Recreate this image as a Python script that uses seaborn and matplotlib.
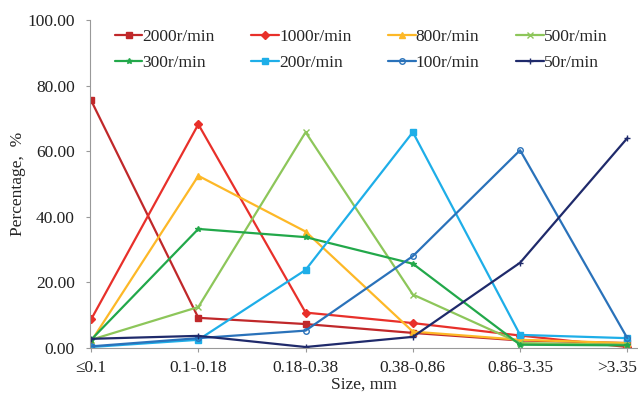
import matplotlib
matplotlib.use('Agg')
import matplotlib.pyplot as plt
import matplotlib.transforms as mtrans
import seaborn as sns
import pandas as pd

sizes = ['≤0.1', '0.1-0.18', '0.18-0.38', '0.38-0.86', '0.86-3.35', '>3.35']
speeds = ['2000r/min', '1000r/min', '800r/min', '500r/min',
          '300r/min', '200r/min', '100r/min', '50r/min']

pct_2000 = [75.5, 9.2, 7.3, 4.6, 2.3, 1.5]
pct_1000 = [8.7, 68.2, 10.8, 7.6, 3.8, 0.3]
pct_800 = [2.0, 52.5, 35.5, 5.0, 2.5, 1.5]
pct_500 = [2.5, 12.5, 65.8, 16.3, 1.5, 1.0]
pct_300 = [2.5, 36.3, 33.8, 25.7, 1.0, 0.8]
pct_200 = [0.3, 2.5, 23.8, 65.8, 4.0, 3.0]
pct_100 = [0.5, 3.0, 5.3, 28.0, 60.3, 3.0]
pct_50 = [2.8, 3.7, 0.3, 3.4, 26.0, 64.0]

series = [pct_2000, pct_1000, pct_800, pct_500, pct_300, pct_200, pct_100, pct_50]
colors = ['#C0282A', '#E8302A', '#FDB827', '#8DC65A',
          '#22A84A', '#1EAEE8', '#2A72BA', '#1F2A6B']
markers = ['s', 'D', '^', 'x', '*', 's', 'o', '+']

rows = []
for spd, vals in zip(speeds, series):
  for i, v in enumerate(vals):
    rows.append({'pos': i, 'speed': spd, 'pct': v})
df = pd.DataFrame(rows)

sns.set_theme(style='white')
plt.rcParams['font.family'] = ['Liberation Serif', 'DejaVu Serif']

fig = plt.figure(figsize=(6.38, 3.94), dpi=100)
ax = fig.add_axes([90/638, 1-348/394, 547/638, 328/394])

for spd, col, mk in zip(speeds, colors, markers):
  sub = df[df['speed'] == spd]
  face = 'none' if mk == 'o' else col
  sns.lineplot(data=sub, x='pos', y='pct', ax=ax, color=col, marker=mk,
               linewidth=1.6, label=spd, markersize=4, markeredgewidth=1.0,
               markeredgecolor=col, markerfacecolor=face)

fs = 12.5
ax.set_xlim(-0.01, 5.09)
ax.set_ylim(0, 100)
ax.set_xticks(range(len(sizes)))
ax.set_xticklabels(sizes)
ax.set_yticks([0, 20, 40, 60, 80, 100])
ax.set_yticklabels([f'{v:.2f}' for v in [0, 20, 40, 60, 80, 100]])
ax.tick_params(axis='both', labelsize=fs, colors='#999999', labelcolor='#222222',
               length=3, direction='out', bottom=True, left=True, width=0.8)
ax.tick_params(axis='y', pad=8)
ax.tick_params(axis='x', pad=6)
# last label sits a bit left, like the original
lab = ax.get_xticklabels()[-1]
lab.set_transform(mtrans.offset_copy(lab.get_transform(), fig, x=-10, units='dots'))
for s in ['top', 'right']:
  ax.spines[s].set_visible(False)
for s in ['left', 'bottom']:
  ax.spines[s].set_color('#999999')
  ax.spines[s].set_linewidth(0.8)
ax.set_xlabel('Size, mm', fontsize=fs, labelpad=0)
ax.set_ylabel('Percentage,  %', fontsize=fs, labelpad=1)

# legend fills by column, so reorder to get rows 2000..500 / 300..50
handles, labels = ax.get_legend_handles_labels()
order = [0, 4, 1, 5, 2, 6, 3, 7]
ax.legend([handles[i] for i in order], [labels[i] for i in order],
          loc='upper left', bbox_to_anchor=(99/638, 1-13/394),
          bbox_transform=fig.transFigure, ncol=4, frameon=False,
          fontsize=fs, handlelength=1.6, handletextpad=0.0,
          columnspacing=2.1, labelspacing=0.6)

fig.savefig('out.png', dpi=100)
